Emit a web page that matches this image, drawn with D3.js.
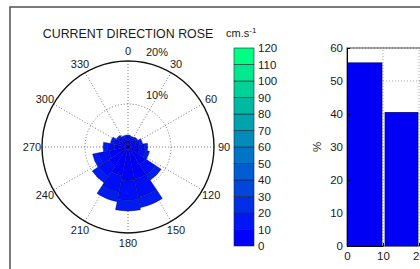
<!DOCTYPE html>
<html>
<head>
<meta charset="utf-8">
<script src="https://cdn.jsdelivr.net/npm/d3@7"></script>
<style>
  body { margin: 0; background: #fff; }
  text { font-family: "Liberation Sans", Arial, sans-serif; fill: #1a1a1a; }
</style>
</head>
<body>
<div id="chart"></div>
<script>
// direction bins (deg, clockwise from north)
const directions = [0, 22.5, 45, 67.5, 90, 112.5, 135, 157.5, 180, 202.5, 225, 247.5, 270, 292.5, 315, 337.5];
// speed classes (cm/s) and their share (%) per direction
const speedLow = [0, 10, 20];
const rose0to10  = [1.5, 1.4, 1.5, 1.9, 2.4, 2.7, 4.9, 7.6, 7.9, 6.9, 5.3, 4.5, 3.1, 2.2, 1.7, 1.5];
const rose10to20 = [0.8, 0.8, 0.8, 1.0, 1.4, 1.5, 2.8, 4.3, 4.5, 3.9, 3.0, 2.5, 1.7, 1.3, 1.0, 0.8];
const rose20to30 = [0.5, 0.4, 0.5, 0.6, 0.8, 0.9, 1.6, 2.5, 2.5, 2.2, 1.7, 1.4, 1.0, 0.7, 0.6, 0.5];
const angleLabels = [0, 30, 60, 90, 120, 150, 180, 210, 240, 270, 300, 330];
const ringValues = [10, 20];

// colorbar
const cbarTicks = [0, 10, 20, 30, 40, 50, 60, 70, 80, 90, 100, 110, 120];

// speed histogram
const histBins = [0, 10, 20];
const histPct = [55.5, 40.5, 4.0];
const histYTicks = [0, 10, 20, 30, 40, 50, 60];
const histXTicks = [0, 10, 20, 30];

const W = 420, H = 269;
const svg = d3.select("#chart").append("svg")
  .attr("width", W).attr("height", H);

svg.append("rect").attr("width", W).attr("height", H).attr("fill", "#fff");

// outer frame (panel border, runs off the right/bottom)
svg.append("rect")
  .attr("x", 10).attr("y", 7)
  .attr("width", W).attr("height", H)
  .attr("fill", "none").attr("stroke", "#5a5a5a").attr("stroke-width", 1.6);

// winter-like colormap
const cmap = v => d3.interpolateRgb("#0000ff", "#00ff80")(v / 110);

// ---------- rose ----------
const cx = 128, cy = 147, R = 86;
const r = d3.scaleLinear().domain([0, 20]).range([0, R]);

const rose = svg.append("g").attr("transform", `translate(${cx},${cy})`);

// grid
rose.append("circle").attr("r", r(10))
  .attr("fill", "none").attr("stroke", "#666").attr("stroke-width", 0.9)
  .attr("stroke-dasharray", "1,2");

rose.selectAll(".spoke")
  .data(angleLabels.filter(a => a < 180))
  .enter().append("line")
  .attr("x1", a => -R * Math.sin(a * Math.PI / 180))
  .attr("y1", a => R * Math.cos(a * Math.PI / 180))
  .attr("x2", a => R * Math.sin(a * Math.PI / 180))
  .attr("y2", a => -R * Math.cos(a * Math.PI / 180))
  .attr("stroke", "#666").attr("stroke-width", 0.9)
  .attr("stroke-dasharray", "1,2");

// stacked petals
const classes = [rose0to10, rose10to20, rose20to30];
const arc = d3.arc();
const half = 11.25 * Math.PI / 180;
const petals = [];
directions.forEach((dir, i) => {
  let cum = 0;
  classes.forEach((vals, k) => {
    petals.push({dir, lo: cum, hi: cum + vals[i], speed: speedLow[k]});
    cum += vals[i];
  });
});

rose.selectAll(".petal")
  .data(petals)
  .enter().append("path")
  .attr("class", "petal")
  .attr("d", d => arc({
    innerRadius: r(d.lo), outerRadius: r(d.hi),
    startAngle: d.dir * Math.PI / 180 - half,
    endAngle: d.dir * Math.PI / 180 + half
  }))
  .attr("fill", d => cmap(d.speed * 0.6))
  .attr("stroke", "#000048").attr("stroke-width", 0.4).attr("stroke-opacity", 0.8);

// outer circle
rose.append("circle").attr("r", R)
  .attr("fill", "none").attr("stroke", "#111").attr("stroke-width", 1.4);

// angle labels
rose.selectAll(".alab")
  .data(angleLabels)
  .enter().append("text")
  .attr("x", a => (R + 10) * Math.sin(a * Math.PI / 180))
  .attr("y", a => -(R + 10) * Math.cos(a * Math.PI / 180))
  .attr("text-anchor", "middle")
  .attr("dominant-baseline", "central")
  .attr("font-size", 11)
  .text(a => a);

// ring labels
rose.selectAll(".rlab")
  .data(ringValues)
  .enter().append("text")
  .attr("x", 29)
  .attr("y", v => -r(v) - 9)
  .attr("text-anchor", "middle")
  .attr("dominant-baseline", "central")
  .attr("font-size", 11)
  .text(v => v + "%");

svg.append("text")
  .attr("x", 128).attr("y", 38)
  .attr("text-anchor", "middle")
  .attr("font-size", 12.4)
  .text("CURRENT DIRECTION ROSE");

// ---------- colorbar ----------
const cbX = 234, cbW = 20;
const cy2 = d3.scaleLinear().domain([0, 120]).range([246, 48]);

svg.selectAll(".cb")
  .data(cbarTicks.slice(0, -1))
  .enter().append("rect")
  .attr("x", cbX).attr("width", cbW)
  .attr("y", v => cy2(v + 10))
  .attr("height", v => cy2(v) - cy2(v + 10))
  .attr("fill", v => cmap(v))
  .attr("stroke", "#1a2a40").attr("stroke-width", 0.6);

svg.append("g")
  .attr("transform", `translate(${cbX + cbW},0)`)
  .call(d3.axisRight(cy2).tickValues(cbarTicks).tickSize(0).tickPadding(4))
  .call(g => g.select(".domain").remove())
  .selectAll("text").attr("font-size", 11.5).attr("fill", "#1a1a1a")
  .attr("font-family", "Liberation Sans, Arial, sans-serif");

const unit = svg.append("text").attr("x", 226).attr("y", 37).attr("font-size", 11);
unit.append("tspan").text("cm.s");
unit.append("tspan").attr("dy", -4).attr("font-size", 8).text("-1");

// ---------- histogram ----------
const x = d3.scaleLinear().domain([0, 10]).range([347, 383]);
const y = d3.scaleLinear().domain([0, 60]).range([246, 48]);

const grid = svg.append("g")
  .attr("stroke", "#888").attr("stroke-width", 0.8).attr("stroke-dasharray", "1,2");
grid.selectAll(".gy").data(histYTicks.slice(1)).enter().append("line")
  .attr("x1", x(0)).attr("x2", W).attr("y1", d => y(d)).attr("y2", d => y(d));
grid.selectAll(".gx").data(histXTicks.slice(1)).enter().append("line")
  .attr("y1", y(0)).attr("y2", y(60)).attr("x1", d => x(d)).attr("x2", d => x(d));

svg.selectAll(".bar")
  .data(histBins)
  .enter().append("rect")
  .attr("x", (d, i) => x(d) + (i === 0 ? 0.5 : 2))
  .attr("width", (d, i) => x(d + 10) - x(d) - (i === 0 ? 1.5 : 3))
  .attr("y", (d, i) => y(histPct[i]))
  .attr("height", (d, i) => y(0) - y(histPct[i]))
  .attr("fill", "#0000f5").attr("stroke", "#00007a").attr("stroke-width", 0.7);

// axes box
svg.append("rect")
  .attr("x", x(0)).attr("y", y(60))
  .attr("width", W).attr("height", y(0) - y(60))
  .attr("fill", "none").attr("stroke", "#222").attr("stroke-width", 0.8);

svg.append("g")
  .attr("transform", `translate(${x(0)},0)`)
  .call(d3.axisLeft(y).tickValues(histYTicks).tickSizeInner(-3).tickSizeOuter(0).tickPadding(4))
  .call(g => g.selectAll("text").attr("font-size", 11.5).attr("fill", "#1a1a1a")
    .attr("font-family", "Liberation Sans, Arial, sans-serif"));

svg.append("g")
  .attr("transform", `translate(0,${y(0)})`)
  .call(d3.axisBottom(x).tickValues(histXTicks).tickSizeInner(-3).tickSizeOuter(0).tickPadding(6))
  .call(g => g.selectAll("text").attr("font-size", 11.5).attr("fill", "#1a1a1a")
    .attr("font-family", "Liberation Sans, Arial, sans-serif"));

svg.append("text")
  .attr("transform", `translate(321,147) rotate(-90)`)
  .attr("text-anchor", "middle")
  .attr("font-size", 11.5)
  .text("%");
</script>
</body>
</html>
